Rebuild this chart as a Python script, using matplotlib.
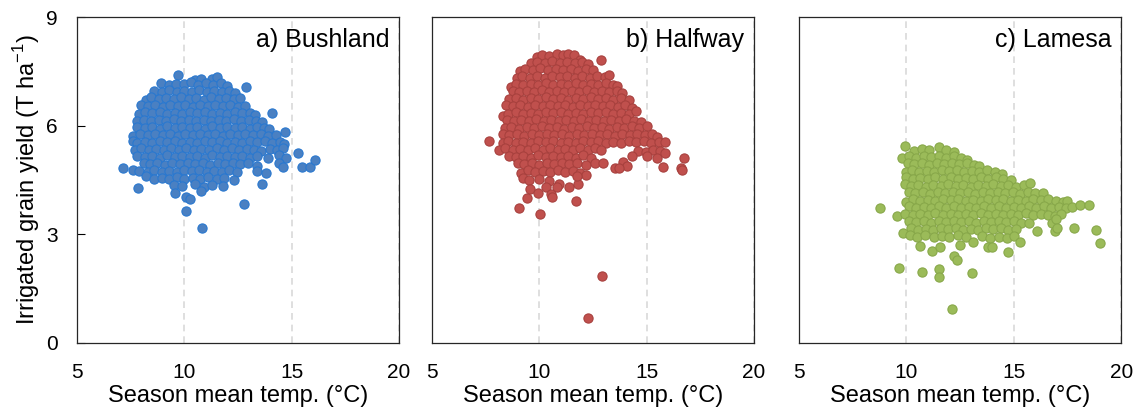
import matplotlib
matplotlib.use("Agg")
import matplotlib.pyplot as plt

plt.rcParams['font.family'] = ['Liberation Sans', 'DejaVu Sans']
plt.rcParams['mathtext.fontset'] = 'custom'
plt.rcParams['mathtext.rm'] = 'Liberation Sans'

# season mean temperature (degC), irrigated grain yield (T/ha)
bushland = [
    (9.7, 7.40), (10.5, 7.25), (10.8, 7.30), (11.3, 7.28), (11.5, 7.35),
    (8.9, 7.18), (9.3, 7.12), (9.6, 7.15), (10.0, 7.14), (10.3, 7.20), (10.65, 7.12), (11.0, 7.17),
    (11.35, 7.13), (11.7, 7.18), (12.0, 7.10), (12.86, 7.08),
    (8.6, 6.97), (8.95, 6.92), (9.3, 6.98), (9.65, 6.93), (10.0, 6.97), (10.35, 6.94), (10.7, 6.98),
    (11.05, 6.93), (11.4, 6.97), (11.75, 6.92), (12.1, 6.96), (12.35, 6.90),
    (8.2, 6.72), (8.45, 6.78), (8.8, 6.74), (9.15, 6.77), (9.5, 6.73), (9.85, 6.78), (10.2, 6.74),
    (10.55, 6.77), (10.9, 6.72), (11.25, 6.78), (11.6, 6.74), (11.95, 6.77), (12.3, 6.73), (12.6, 6.76),
    (8.0, 6.57), (8.3, 6.53), (8.65, 6.56), (9.0, 6.52), (9.35, 6.58), (9.7, 6.54), (10.05, 6.57),
    (10.4, 6.52), (10.75, 6.56), (11.1, 6.53), (11.45, 6.58), (11.8, 6.54), (12.15, 6.56), (12.5, 6.52),
    (12.85, 6.55),
    (7.9, 6.33), (8.15, 6.38), (8.5, 6.34), (8.85, 6.37), (9.2, 6.32), (9.55, 6.36), (9.9, 6.33),
    (10.25, 6.38), (10.6, 6.34), (10.95, 6.37), (11.3, 6.32), (11.65, 6.36), (12.0, 6.33), (12.35, 6.38),
    (12.7, 6.34), (13.05, 6.36), (13.3, 6.30), (14.1, 6.35),
    (7.8, 6.13), (8.1, 6.17), (8.45, 6.12), (8.8, 6.16), (9.15, 6.14), (9.5, 6.18), (9.85, 6.12),
    (10.2, 6.16), (10.55, 6.13), (10.9, 6.17), (11.25, 6.12), (11.6, 6.16), (11.95, 6.14), (12.3, 6.18),
    (12.65, 6.12), (13.0, 6.16), (13.35, 6.13), (13.6, 6.10),
    (7.8, 5.97), (8.15, 5.93), (8.5, 5.96), (8.85, 5.92), (9.2, 5.98), (9.55, 5.94), (9.9, 5.97),
    (10.25, 5.93), (10.6, 5.96), (10.95, 5.92), (11.3, 5.98), (11.65, 5.94), (12.0, 5.97), (12.35, 5.93),
    (12.7, 5.96), (13.05, 5.92), (13.4, 5.97), (13.7, 5.93), (13.95, 5.90),
    (7.6, 5.72), (7.95, 5.77), (8.3, 5.73), (8.65, 5.78), (9.0, 5.74), (9.35, 5.77), (9.7, 5.72),
    (10.05, 5.76), (10.4, 5.73), (10.75, 5.78), (11.1, 5.74), (11.45, 5.77), (11.8, 5.72), (12.15, 5.76),
    (12.5, 5.73), (12.85, 5.78), (13.2, 5.74), (13.55, 5.77), (13.9, 5.72), (14.25, 5.75), (14.7, 5.83),
    (7.6, 5.57), (7.8, 5.52), (8.15, 5.56), (8.5, 5.52), (8.85, 5.58), (9.2, 5.54), (9.55, 5.57),
    (9.9, 5.53), (10.25, 5.56), (10.6, 5.52), (10.95, 5.58), (11.3, 5.54), (11.65, 5.57), (12.0, 5.53),
    (12.35, 5.56), (12.7, 5.52), (13.05, 5.58), (13.4, 5.54), (13.75, 5.57), (14.1, 5.53), (14.45, 5.56),
    (14.65, 5.50),
    (7.7, 5.33), (8.0, 5.37), (8.35, 5.32), (8.7, 5.36), (9.05, 5.33), (9.4, 5.38), (9.75, 5.34),
    (10.1, 5.37), (10.45, 5.32), (10.8, 5.36), (11.15, 5.33), (11.5, 5.38), (11.85, 5.34), (12.2, 5.37),
    (12.55, 5.32), (12.9, 5.36), (13.25, 5.33), (13.55, 5.30), (14.0, 5.35), (14.3, 5.32), (14.6, 5.38),
    (15.3, 5.25),
    (7.8, 5.17), (8.15, 5.13), (8.5, 5.16), (8.85, 5.12), (9.2, 5.18), (9.55, 5.14), (9.9, 5.17),
    (10.25, 5.13), (10.6, 5.16), (10.95, 5.12), (11.3, 5.18), (11.65, 5.14), (12.0, 5.17), (12.35, 5.13),
    (12.7, 5.16), (13.05, 5.12), (13.4, 5.15), (13.9, 5.10), (14.4, 5.18), (14.75, 5.12),
    (8.1, 4.97), (8.4, 4.93), (8.75, 4.96), (9.1, 4.92), (9.45, 4.98), (9.8, 4.94), (10.15, 4.97),
    (10.5, 4.93), (10.85, 4.96), (11.2, 4.92), (11.55, 4.98), (11.9, 4.94), (12.25, 4.97), (12.6, 4.93),
    (12.95, 4.96), (13.4, 4.90), (14.4, 4.97), (14.6, 4.85), (15.5, 4.87), (15.85, 4.87), (16.1, 5.05),
    (7.15, 4.83), (7.6, 4.78), (7.9, 4.75), (8.3, 4.72), (8.6, 4.77), (8.95, 4.73), (9.3, 4.76),
    (9.65, 4.72), (10.0, 4.78), (10.35, 4.74), (10.7, 4.77), (11.05, 4.73), (11.4, 4.76), (11.75, 4.72),
    (12.1, 4.77), (12.45, 4.73), (13.4, 4.75), (13.8, 4.70),
    (8.2, 4.60), (8.6, 4.52), (8.95, 4.56), (9.3, 4.52), (9.65, 4.57), (10.0, 4.53), (10.4, 4.56),
    (10.75, 4.52), (11.1, 4.57), (11.5, 4.53), (11.85, 4.56), (12.3, 4.50),
    (7.85, 4.28), (9.5, 4.35), (9.9, 4.33), (10.5, 4.38), (10.9, 4.32), (11.3, 4.36), (11.8, 4.34),
    (13.6, 4.39),
    (9.55, 4.15), (10.1, 4.04), (10.25, 3.98), (10.8, 4.20), (10.1, 3.65), (10.83, 3.18), (12.8, 3.83),
]

halfway = [
    (9.9, 7.90), (10.1, 7.96), (10.45, 7.93), (10.8, 7.97), (11.1, 7.94), (11.35, 7.99), (11.6, 7.95),
    (11.9, 7.82), (12.86, 7.82),
    (9.6, 7.72), (9.9, 7.77), (10.25, 7.73), (10.6, 7.78), (10.95, 7.74), (11.3, 7.77), (11.65, 7.73),
    (12.0, 7.76), (12.25, 7.70),
    (9.1, 7.52), (9.35, 7.57), (9.7, 7.53), (10.05, 7.58), (10.4, 7.54), (10.75, 7.57), (11.1, 7.53),
    (11.45, 7.56), (11.8, 7.52), (12.15, 7.57), (12.5, 7.53),
    (8.95, 7.33), (9.2, 7.37), (9.55, 7.32), (9.9, 7.36), (10.25, 7.33), (10.6, 7.38), (10.95, 7.34),
    (11.3, 7.37), (11.65, 7.32), (12.0, 7.36), (12.35, 7.33), (12.7, 7.37), (13.05, 7.35), (13.25, 7.40),
    (8.7, 7.08), (8.9, 7.15), (9.25, 7.12), (9.6, 7.16), (9.95, 7.13), (10.3, 7.17), (10.65, 7.12),
    (11.0, 7.16), (11.35, 7.13), (11.7, 7.17), (12.05, 7.12), (12.4, 7.16), (12.75, 7.13), (13.1, 7.17),
    (13.45, 7.12), (13.6, 7.10),
    (8.75, 6.97), (9.05, 6.93), (9.4, 6.96), (9.75, 6.92), (10.1, 6.98), (10.45, 6.94), (10.8, 6.97),
    (11.15, 6.93), (11.5, 6.96), (11.85, 6.92), (12.2, 6.98), (12.55, 6.94), (12.9, 6.97), (13.25, 6.93),
    (13.6, 6.96), (13.85, 6.90),
    (8.6, 6.73), (8.9, 6.77), (9.25, 6.72), (9.6, 6.76), (9.95, 6.73), (10.3, 6.78), (10.65, 6.74),
    (11.0, 6.77), (11.35, 6.72), (11.7, 6.76), (12.05, 6.73), (12.4, 6.78), (12.75, 6.74), (13.1, 6.77),
    (13.45, 6.72), (13.8, 6.76), (14.15, 6.71),
    (8.45, 6.57), (8.75, 6.53), (9.1, 6.56), (9.45, 6.52), (9.8, 6.58), (10.15, 6.54), (10.5, 6.57),
    (10.85, 6.53), (11.2, 6.56), (11.55, 6.52), (11.9, 6.58), (12.25, 6.54), (12.6, 6.57), (12.95, 6.53),
    (13.3, 6.56), (13.65, 6.52), (14.0, 6.57), (14.3, 6.50),
    (8.3, 6.27), (8.55, 6.33), (8.9, 6.37), (9.25, 6.32), (9.6, 6.36), (9.95, 6.33), (10.3, 6.38),
    (10.65, 6.34), (11.0, 6.37), (11.35, 6.32), (11.7, 6.36), (12.05, 6.33), (12.4, 6.38), (12.75, 6.34),
    (13.1, 6.37), (13.45, 6.32), (13.8, 6.36), (14.15, 6.33), (14.5, 6.40),
    (8.5, 6.17), (8.8, 6.13), (9.15, 6.16), (9.5, 6.12), (9.85, 6.18), (10.2, 6.14), (10.55, 6.17),
    (10.9, 6.13), (11.25, 6.16), (11.6, 6.12), (11.95, 6.18), (12.3, 6.14), (12.65, 6.17), (13.0, 6.13),
    (13.35, 6.16), (13.7, 6.12), (14.05, 6.18), (14.4, 6.14), (14.75, 6.10),
    (8.4, 5.93), (8.7, 5.97), (9.05, 5.92), (9.4, 5.96), (9.75, 5.93), (10.1, 5.98), (10.45, 5.94),
    (10.8, 5.97), (11.15, 5.92), (11.5, 5.96), (11.85, 5.93), (12.2, 5.98), (12.55, 5.94), (12.9, 5.97),
    (13.25, 5.92), (13.6, 5.96), (13.95, 5.93), (14.3, 5.98), (14.65, 5.94), (15.0, 5.98),
    (8.3, 5.77), (8.6, 5.73), (8.95, 5.76), (9.3, 5.72), (9.65, 5.78), (10.0, 5.74), (10.35, 5.77),
    (10.7, 5.73), (11.05, 5.76), (11.4, 5.72), (11.75, 5.78), (12.1, 5.74), (12.45, 5.77), (12.8, 5.73),
    (13.15, 5.76), (13.5, 5.72), (13.85, 5.78), (14.2, 5.74), (14.55, 5.77), (14.9, 5.73), (15.25, 5.76),
    (15.5, 5.70),
    (7.65, 5.58), (8.3, 5.53), (8.55, 5.57), (8.9, 5.52), (9.25, 5.56), (9.6, 5.53), (9.95, 5.58),
    (10.3, 5.54), (10.65, 5.57), (11.0, 5.52), (11.35, 5.56), (11.7, 5.53), (12.05, 5.58), (12.4, 5.54),
    (12.75, 5.57), (13.1, 5.52), (13.45, 5.56), (13.8, 5.53), (14.15, 5.58), (14.5, 5.54), (14.85, 5.57),
    (15.2, 5.52), (15.55, 5.56), (15.85, 5.55),
    (8.1, 5.33), (8.4, 5.37), (8.75, 5.32), (9.1, 5.36), (9.45, 5.33), (9.8, 5.38), (10.15, 5.34),
    (10.5, 5.37), (10.85, 5.32), (11.2, 5.36), (11.55, 5.33), (11.9, 5.38), (12.25, 5.34), (12.6, 5.37),
    (12.85, 5.32), (14.6, 5.30), (14.95, 5.27), (15.3, 5.32), (15.6, 5.30),
    (8.6, 5.17), (8.9, 5.13), (9.25, 5.16), (9.6, 5.12), (9.95, 5.18), (10.3, 5.14), (10.65, 5.17),
    (11.0, 5.13), (11.35, 5.16), (11.7, 5.12), (12.05, 5.18), (12.4, 5.10), (14.3, 5.15), (15.0, 5.15),
    (15.5, 5.12), (15.85, 5.25), (16.74, 5.10),
    (9.0, 4.97), (9.3, 4.93), (9.65, 4.96), (10.0, 4.92), (10.35, 4.98), (10.7, 4.94), (11.05, 4.97),
    (11.4, 4.93), (11.75, 4.96), (12.15, 4.92), (12.6, 4.96), (12.95, 4.97), (13.9, 5.00), (14.1, 4.90),
    (15.75, 4.87), (16.6, 4.83),
    (9.15, 4.69), (9.45, 4.77), (9.8, 4.73), (10.15, 4.76), (10.5, 4.72), (10.85, 4.77), (11.2, 4.73),
    (11.55, 4.76), (11.9, 4.70), (12.16, 4.64), (13.5, 4.83), (13.7, 4.83), (16.65, 4.77),
    (9.25, 4.55), (9.5, 4.50), (10.0, 4.52), (10.45, 4.48), (10.9, 4.40), (11.4, 4.30), (11.8, 4.40),
    (11.75, 4.60),
    (9.55, 4.25), (9.95, 4.15), (10.3, 4.30), (10.55, 4.10), (10.8, 4.30),
    (9.4, 4.00), (10.6, 4.04), (11.7, 3.92), (9.07, 3.72), (10.03, 3.55), (12.93, 1.85), (12.24, 0.68),
]

lamesa = [
    (9.94, 5.45), (10.35, 5.30), (10.7, 5.36), (11.05, 5.32), (11.5, 5.40), (11.85, 5.33), (12.2, 5.26),
    (9.78, 5.12), (10.1, 5.15), (10.45, 5.12), (10.8, 5.17), (11.15, 5.13), (11.5, 5.16), (11.85, 5.12),
    (12.2, 5.17), (12.55, 5.10), (12.8, 5.05),
    (10.05, 4.97), (10.35, 4.93), (10.7, 4.96), (11.05, 4.92), (11.4, 4.98), (11.75, 4.94), (12.1, 4.97),
    (12.45, 4.93), (12.8, 4.96), (13.15, 4.92), (13.4, 4.89),
    (10.0, 4.73), (10.25, 4.77), (10.6, 4.72), (10.95, 4.76), (11.3, 4.73), (11.65, 4.78), (12.0, 4.74),
    (12.35, 4.77), (12.7, 4.72), (13.05, 4.76), (13.4, 4.73), (13.75, 4.77), (14.1, 4.72), (14.44, 4.66),
    (10.0, 4.57), (10.3, 4.53), (10.65, 4.56), (11.0, 4.52), (11.35, 4.58), (11.7, 4.54), (12.05, 4.57),
    (12.4, 4.53), (12.75, 4.56), (13.1, 4.52), (13.45, 4.58), (13.8, 4.54), (14.15, 4.57), (14.5, 4.53),
    (14.85, 4.50),
    (9.95, 4.40), (10.2, 4.33), (10.55, 4.37), (10.9, 4.32), (11.25, 4.36), (11.6, 4.33), (11.95, 4.38),
    (12.3, 4.34), (12.65, 4.37), (13.0, 4.32), (13.35, 4.36), (13.7, 4.33), (14.05, 4.38), (14.4, 4.34),
    (14.75, 4.37), (15.1, 4.32), (15.45, 4.36), (15.76, 4.43),
    (10.1, 4.17), (10.4, 4.13), (10.75, 4.16), (11.1, 4.12), (11.45, 4.18), (11.8, 4.14), (12.15, 4.17),
    (12.5, 4.13), (12.85, 4.16), (13.2, 4.12), (13.55, 4.18), (13.9, 4.14), (14.25, 4.17), (14.6, 4.13),
    (14.95, 4.16), (15.3, 4.12), (15.65, 4.18), (16.0, 4.14), (16.38, 4.15),
    (10.0, 3.90), (10.3, 3.97), (10.65, 3.93), (11.0, 3.96), (11.35, 3.92), (11.7, 3.98), (12.05, 3.94),
    (12.4, 3.97), (12.75, 3.93), (13.1, 3.96), (13.45, 3.92), (13.8, 3.98), (14.15, 3.94), (14.5, 3.97),
    (14.85, 3.93), (15.2, 3.96), (15.55, 3.92), (15.9, 3.98), (16.25, 3.94), (16.6, 3.97), (16.95, 3.93),
    (17.3, 3.90), (17.47, 3.92),
    (8.77, 3.73), (10.1, 3.77), (10.45, 3.73), (10.8, 3.76), (11.15, 3.72), (11.5, 3.78), (11.85, 3.74),
    (12.2, 3.77), (12.55, 3.73), (12.9, 3.76), (13.25, 3.72), (13.6, 3.78), (13.95, 3.74), (14.3, 3.77),
    (14.65, 3.73), (15.0, 3.76), (15.35, 3.72), (15.7, 3.78), (16.05, 3.74), (16.4, 3.77), (16.75, 3.73),
    (17.1, 3.76), (17.45, 3.72), (17.7, 3.75), (18.06, 3.80), (18.5, 3.80),
    (9.55, 3.50), (9.95, 3.57), (10.3, 3.53), (10.65, 3.56), (11.0, 3.52), (11.35, 3.58), (11.7, 3.54),
    (12.05, 3.57), (12.4, 3.53), (12.75, 3.56), (13.1, 3.52), (13.45, 3.58), (13.8, 3.54), (14.15, 3.57),
    (14.5, 3.53), (14.85, 3.56), (15.2, 3.52), (15.55, 3.58), (15.9, 3.54), (16.25, 3.57), (16.6, 3.53),
    (16.9, 3.50), (17.2, 3.55),
    (10.1, 3.37), (10.45, 3.33), (10.8, 3.36), (11.15, 3.32), (11.5, 3.38), (11.85, 3.34), (12.2, 3.37),
    (12.55, 3.33), (12.9, 3.36), (13.25, 3.32), (13.6, 3.38), (13.95, 3.34), (14.3, 3.37), (14.65, 3.33),
    (15.0, 3.36), (15.35, 3.32), (15.7, 3.30), (16.8, 3.30), (16.97, 3.41),
    (10.2, 3.17), (10.55, 3.13), (10.9, 3.16), (11.25, 3.12), (11.6, 3.18), (11.95, 3.14), (12.3, 3.17),
    (12.65, 3.13), (13.0, 3.16), (13.35, 3.12), (13.7, 3.18), (14.05, 3.14), (14.4, 3.17), (14.75, 3.13),
    (15.1, 3.15), (16.07, 3.08), (16.9, 3.10), (17.0, 3.18), (17.8, 3.18), (18.83, 3.13),
    (9.86, 3.04), (10.17, 2.99), (10.5, 2.93), (10.85, 2.97), (11.3, 2.92), (11.65, 2.96), (12.0, 2.93),
    (12.4, 2.97), (12.75, 2.92), (13.1, 2.80), (13.5, 2.95), (13.9, 2.90), (14.3, 2.93), (14.7, 2.90),
    (15.0, 2.95), (15.3, 2.80),
    (10.64, 2.67), (11.18, 2.54), (11.55, 2.66), (12.19, 2.39), (12.35, 2.30), (12.5, 2.71), (13.8, 2.66),
    (14.0, 2.65), (14.75, 2.52), (18.99, 2.76),
    (9.67, 2.08), (10.74, 1.95), (11.5, 2.03), (11.5, 1.83), (13.04, 1.92), (12.14, 0.95),
]

titles = ["a) Bushland", "b) Halfway", "c) Lamesa"]
face = ["#4a80c2", "#c0504d", "#9bbb59"]
edge = ["#2a78cf", "#a8413e", "#88a84a"]
xticks = [5, 10, 15, 20]
yticks = [0, 3, 6, 9]

fig = plt.figure(figsize=(11.4, 4.12), dpi=100)
lefts = [0.0675, 0.379, 0.701]

for i, pts in enumerate([bushland, halfway, lamesa]):
    ax = fig.add_axes([lefts[i], 0.1675, 0.2825, 0.7912])
    t = [p[0] for p in pts]
    y = [p[1] for p in pts]
    ax.scatter(t, y, s=44, c=face[i], edgecolors=edge[i], linewidths=0.8, zorder=3)
    ax.set_xlim(5, 20)
    ax.set_ylim(0, 9)
    ax.set_xticks(xticks)
    ax.set_yticks(yticks)
    ax.grid(axis='x', color='#d9d9d9', linestyle=(0, (4, 3)), linewidth=1.2, zorder=1)
    ax.tick_params(axis='x', length=0, pad=14.5, labelsize=15)
    if i == 0:
        ax.tick_params(axis='y', direction='in', length=6, width=0.8, pad=14, labelsize=15)
        ax.set_ylabel("Irrigated grain yield (T ha$^{-1}$)", fontsize=17, labelpad=3)
    else:
        ax.tick_params(axis='y', length=0, labelleft=False)
    for s in ax.spines.values():
        s.set_linewidth(0.9)
        s.set_color('#262626')
    ax.set_xlabel("Season mean temp. (°C)", fontsize=17, labelpad=2)
    ax.text(0.97, 0.93, titles[i], transform=ax.transAxes, ha='right', va='center', fontsize=18)

fig.savefig("out.png", dpi=100)
